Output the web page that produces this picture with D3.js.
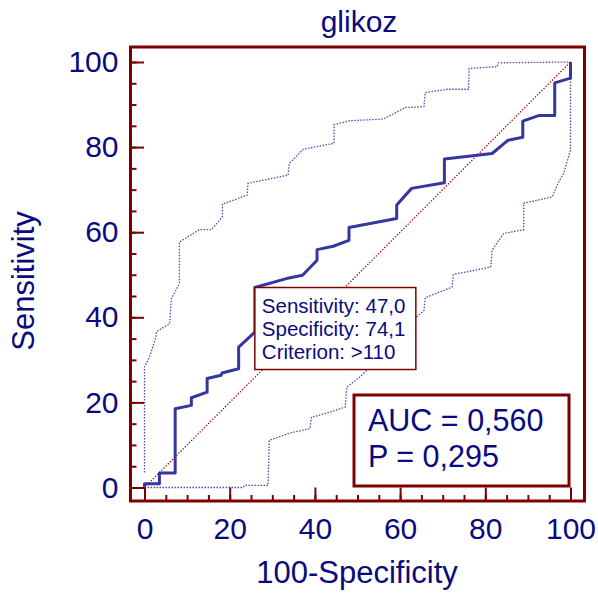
<!DOCTYPE html>
<html>
<head>
<meta charset="utf-8">
<script src="https://cdn.jsdelivr.net/npm/d3@7"></script>
<style>
  body { margin: 0; background: #fff; }
  text { font-family: "Liberation Sans", Arial, sans-serif; fill: #0a0a80; }
</style>
</head>
<body>
<script>
// ---- data (x = 100-Specificity, y = Sensitivity) ----
var title = "glikoz";
var xTicks = [0, 20, 40, 60, 80, 100];
var yTicks = [0, 20, 40, 60, 80, 100];

var rocCurve = [[0,0],[0,0.9],[3.5,0.9],[3.5,3.4],[7.2,3.4],[7.2,18.5],[11,19.3],[11,21.1],
  [14.7,22.4],[14.7,25.6],[18,26.4],[18.2,26.9],[22.1,27.9],[22.1,33],[25.9,36.5],[25.9,47.0],
  [33.3,49.1],[37.1,49.9],[40.5,53.4],[40.5,55.9],[44.3,56.7],[48,58.1],[48,61.1],[59.2,63.2],
  [59.2,66.4],[62.7,70.3],[70.4,71.6],[70.4,77.2],[81.6,78.5],[85.3,81.6],[88.8,82.3],[88.8,86.1],
  [92.5,87.4],[96.3,87.4],[96.3,95.1],[100,96.2],[100,100]];

var upperBand = [[0,3.5],[0,28.3],[1.2,30.7],[2.7,35.4],[2.8,36.6],[5.9,38.5],[6.3,44.4],[8.2,47.9],
  [8.2,57.7],[12.9,60.6],[15.7,60.6],[18.3,63.6],[18.3,66.6],[24.1,68.7],[24.3,71.5],[33.7,73.4],
  [34,76.2],[37.3,79.5],[44.5,80.9],[44.5,85.3],[48.2,86.2],[56.1,86.6],[61.2,89.3],[65.6,89.5],
  [65.9,92.8],[71,93.6],[76.1,93.6],[76.2,98.5],[82.8,98.9],[83,99.8],[100,100]];

var lowerBand = [[0,0],[23.1,0],[23.5,0.5],[29,0.5],[29.3,11.1],[34.1,12.8],[38.8,13.8],[39.2,16.5],
  [43.5,17.7],[47.1,18.9],[47.5,23.6],[50.6,26],[51.4,26.8],[56,31],[60,36],[63.9,40.1],[65.6,41.6],
  [65.9,44.6],[72.2,47.1],[72.5,50.1],[77.3,51],[81.2,51.8],[81.4,53],[81.6,55.8],[84.3,59.7],
  [89,60.6],[89,66.8],[95.7,68.3],[97.2,71.8],[98.4,73.8],[100,79.3],[100,100]];

var diagonal = [[0,0],[100,100]];

var criterion = {sens: "47,0", spec: "74,1", crit: ">110", x: 100 - 74.1, y: 47.0};
var aucLines = ["AUC = 0,560", "P = 0,295"];

// ---- layout ----
var W = 598, H = 594;
var frame = {left: 130.5, top: 47, right: 584.5, bottom: 501};
var darkRed = "#7d0000", blue = "#3636a0";

var x = d3.scaleLinear().domain([0, 100]).range([144.5, 570.5]);
var y = d3.scaleLinear().domain([0, 100]).range([487.5, 62]);

var svg = d3.select("body").append("svg")
    .attr("width", W)
    .attr("height", H);

// title
svg.append("text")
    .attr("x", 359).attr("y", 32)
    .attr("text-anchor", "middle")
    .attr("font-size", "30px")
    .text(title);

// lines
var line = d3.line().x(function(d) { return x(d[0]); }).y(function(d) { return y(d[1]); });

svg.append("path").datum(diagonal)
    .attr("d", line)
    .attr("fill", "none")
    .attr("stroke", "#a00000")
    .attr("stroke-width", 1.3)
    .attr("stroke-dasharray", "1.3,1.7");

[upperBand, lowerBand].forEach(function(band) {
  svg.append("path").datum(band)
      .attr("d", line)
      .attr("fill", "none")
      .attr("stroke", "#4b4bb0")
      .attr("stroke-width", 1.3)
      .attr("stroke-dasharray", "1.5,1.5");
});

svg.append("path").datum(rocCurve)
    .attr("d", line)
    .attr("fill", "none")
    .attr("stroke", blue)
    .attr("stroke-width", 3)
    .attr("stroke-linejoin", "round");

// callout box at the criterion point
var cx = x(criterion.x), cy = y(criterion.y);
svg.append("rect")
    .attr("x", cx).attr("y", cy)
    .attr("width", 161).attr("height", 82)
    .attr("fill", "#fff")
    .attr("stroke", darkRed)
    .attr("stroke-width", 1.5);
var calloutLines = ["Sensitivity: " + criterion.sens, "Specificity: " + criterion.spec, "Criterion: " + criterion.crit];
calloutLines.forEach(function(t, i) {
  svg.append("text")
      .attr("x", cx + 7).attr("y", cy + 25 + i * 23)
      .attr("font-size", "20.5px")
      .text(t);
});

// AUC box
svg.append("rect")
    .attr("x", 354).attr("y", 395)
    .attr("width", 215).attr("height", 91)
    .attr("fill", "#fff")
    .attr("stroke", darkRed)
    .attr("stroke-width", 3);
aucLines.forEach(function(t, i) {
  svg.append("text")
      .attr("x", 368).attr("y", 431 + i * 36)
      .attr("font-size", "30.5px")
      .text(t);
});

// axes: major + minor ticks pointing inward
var minor = d3.range(0, 101, 5);

var yAxisG = svg.append("g").attr("transform", "translate(" + frame.left + ",0)");
yAxisG.append("g").call(d3.axisLeft(y).tickValues(minor).tickSize(-6).tickFormat(""));
yAxisG.append("g").call(d3.axisLeft(y).tickValues(yTicks).tickSize(-13.5).tickPadding(12));

var xAxisG = svg.append("g").attr("transform", "translate(0," + frame.bottom + ")");
xAxisG.append("g").call(d3.axisBottom(x).tickValues(minor).tickSize(-6).tickFormat(""));
xAxisG.append("g").call(d3.axisBottom(x).tickValues(xTicks).tickSize(-13.5).tickPadding(17));

svg.selectAll(".domain").remove();
svg.selectAll(".tick line").attr("stroke", darkRed).attr("stroke-width", 2);
svg.selectAll(".tick text")
    .attr("font-size", "30px")
    .attr("font-family", "Liberation Sans, Arial, sans-serif")
    .style("fill", "#0a0a80");

// frame
svg.append("rect")
    .attr("x", frame.left).attr("y", frame.top)
    .attr("width", frame.right - frame.left)
    .attr("height", frame.bottom - frame.top)
    .attr("fill", "none")
    .attr("stroke", darkRed)
    .attr("stroke-width", 3);

// axis titles
svg.append("text")
    .attr("x", 357).attr("y", 583)
    .attr("text-anchor", "middle")
    .attr("font-size", "31px")
    .text("100-Specificity");

svg.append("text")
    .attr("transform", "translate(34,281) rotate(-90)")
    .attr("text-anchor", "middle")
    .attr("font-size", "31px")
    .text("Sensitivity");
</script>
</body>
</html>
